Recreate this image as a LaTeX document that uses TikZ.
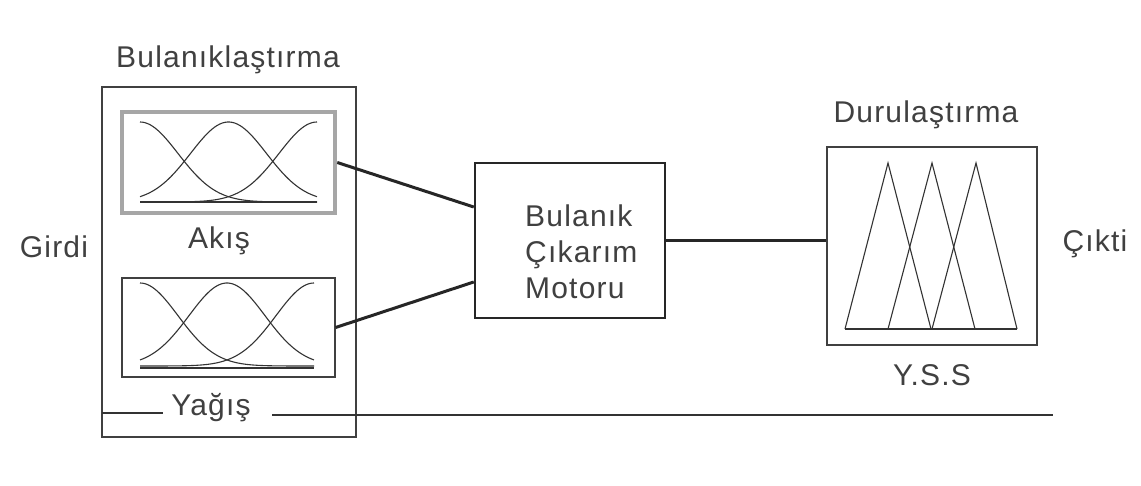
\documentclass[tikz,border=0pt]{standalone}
\usepackage{fontspec}
\setmainfont{Liberation Sans}[LetterSpace=4]
\usetikzlibrary{calc}
\begin{document}
\begin{tikzpicture}[x=1pt,y=-1pt,
  lbl/.style={font=\fontsize{30}{36}\selectfont, text=black!75, inner sep=0pt},
  box/.style={draw=black!75, line width=1.2pt, inner sep=0pt},
  selbox/.style={draw=black!35, line width=4.5pt, inner sep=0pt},
  enginebox/.style={draw=black!85, line width=2.5pt, inner sep=0pt},
  link/.style={draw=black!85, line width=3pt},
  mf/.style={draw=black!80, line width=1.1pt},
  sep/.style={draw=black!80, line width=1.3pt}]
\useasboundingbox[fill=white] (0,0) rectangle (1141,486);

% boxes
\node[box, minimum width=254pt, minimum height=350pt] (outer) at (229,262) {};
\node[selbox, minimum width=213pt, minimum height=101pt] (akis) at (228.5,162.5) {};
\node[box, minimum width=213pt, minimum height=99pt] (yagis) at (228.5,327.5) {};
\node[enginebox, minimum width=190pt, minimum height=155pt] (engine) at (570,240.5) {};
\node[box, line width=1.8pt, minimum width=210pt, minimum height=198pt] (defuzz) at (932,246) {};

% labels
\node[lbl, anchor=base] (tBul) at (228,68) {Bulanıklaştırma};
\node[lbl, anchor=base] (tAkis) at (219,249) {Akış};
\node[lbl, anchor=base] (tYag) at (211,415) {Yağış};
\node[lbl, anchor=base] (tGirdi) at (54,258) {Girdi};
\node[lbl, anchor=base] (tDur) at (926,123) {Durulaştırma};
\node[lbl, anchor=base] (tYSS) at (932,385) {Y.S.S};
\node[lbl, anchor=base] (tCikti) at (1095,252) {Çıkti};
\node[lbl, anchor=base west] (e1) at (525,227) {Bulanık};
\node[lbl, anchor=base west] (e2) at (525,263) {Çıkarım};
\node[lbl, anchor=base west] (e3) at (525,299) {Motoru};

% separator line
\coordinate (sepA) at (102,413);
\coordinate (sepB) at (163,413);
\coordinate (sepC) at (272,415);
\coordinate (sepD) at (1053,415);
\draw[sep] (sepA) -- (sepB);
\draw[sep] (sepC) -- (sepD);

% connectors
\draw[link] (akis.east) -- ([yshift=33.5pt]engine.west);
\draw[link] (yagis.east) -- ([yshift=-41.5pt]engine.west);
\draw[link] (engine.east) -- (engine.east -| defuzz.west);

% membership functions: Akis
\draw[mf] plot[domain=140:317, samples=70] (\x, {202-80*exp(-0.5*((\x-140)/38)^2)});
\draw[mf] plot[domain=140:317, samples=70] (\x, {202-80*exp(-0.5*((\x-228.5)/38)^2)});
\draw[mf] plot[domain=140:317, samples=70] (\x, {202-80*exp(-0.5*((\x-317)/38)^2)});
\draw[mf] (140,202) -- (317,202);

% membership functions: Yagis
\draw[mf] plot[domain=140:314, samples=70] (\x, {366-83*exp(-0.5*((\x-140)/38)^2)});
\draw[mf] plot[domain=140:314, samples=70] (\x, {366-83*exp(-0.5*((\x-227)/38)^2)});
\draw[mf] plot[domain=140:314, samples=70] (\x, {366-83*exp(-0.5*((\x-314)/38)^2)});
\draw[mf] (140,368) -- (314,368);

% triangles
\draw[mf] (845,329) -- (888,163) -- (931,329);
\draw[mf] (888,329) -- (932,163) -- (975,329);
\draw[mf] (932,329) -- (976,163) -- (1017,329);
\draw[mf] (845,329) -- (1017,329);
\end{tikzpicture}
\end{document}
